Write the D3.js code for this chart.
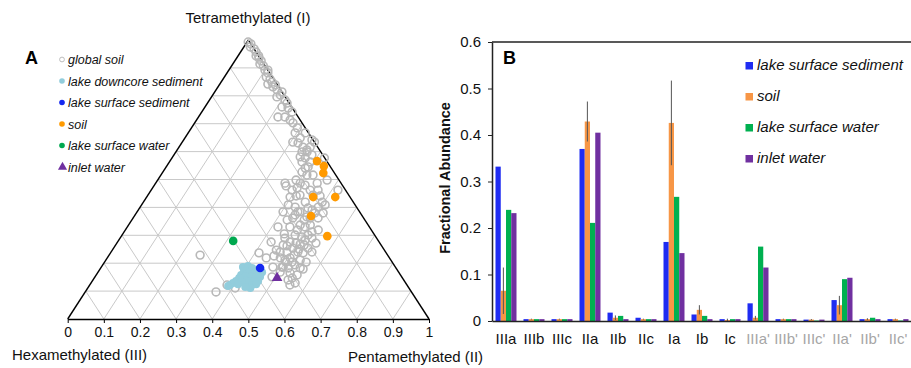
<!DOCTYPE html>
<html>
<head>
<meta charset="utf-8">
<script src="https://cdn.jsdelivr.net/npm/d3@7"></script>
<style>
  html, body { margin: 0; padding: 0; background: #fff; }
  svg { display: block; font-family: "Liberation Sans", Arial, Helvetica, sans-serif; }
</style>
</head>
<body>
<svg id="chart" width="911" height="368"></svg>
<script>
// ---------- Panel A: ternary data, [Tetramethylated (I), Pentamethylated (II)] fractions ----------
const globalSoil = [
  [0.993,0.003],[0.986,0.014],[0.975,0.018],[0.968,0.032],[0.957,0.043],[0.943,0.050],[0.935,0.062],
  [0.925,0.073],[0.914,0.075],[0.907,0.088],[0.892,0.100],[0.882,0.113],[0.867,0.116],[0.860,0.130],
  [0.849,0.141],[0.842,0.133],[0.839,0.155],[0.832,0.152],[0.821,0.169],[0.803,0.187],[0.796,0.181],
  [0.785,0.209],[0.760,0.213],[0.756,0.232],[0.774,0.220],[0.724,0.220],[0.724,0.239],[0.713,0.259],
  [0.703,0.272],[0.685,0.293],[0.667,0.296],[0.649,0.319],[0.631,0.322],[0.616,0.343],[0.616,0.363],
  [0.599,0.349],[0.599,0.363],[0.581,0.353],[0.577,0.369],[0.588,0.382],[0.563,0.390],[0.634,0.306],
  [0.634,0.366],[0.606,0.359],[0.563,0.367],[0.545,0.393],[0.577,0.422],[0.527,0.385],[0.516,0.404],
  [0.516,0.421],[0.498,0.469],[0.487,0.358],[0.470,0.400],[0.480,0.417],[0.462,0.440],[0.462,0.462],
  [0.444,0.421],[0.419,0.448],[0.401,0.429],[0.409,0.406],[0.401,0.493],[0.409,0.508],[0.384,0.451],
  [0.366,0.479],[0.362,0.512],[0.362,0.442],[0.337,0.475],[0.330,0.492],[0.337,0.503],[0.462,0.517],
  [0.477,0.366],[0.487,0.447],[0.419,0.495],[0.380,0.517],[0.384,0.445],[0.355,0.430],[0.330,0.450],
  [0.330,0.417],[0.301,0.479],[0.294,0.501],[0.301,0.515],[0.272,0.551],[0.276,0.477],[0.265,0.464],
  [0.240,0.468],[0.240,0.487],[0.254,0.496],[0.240,0.517],[0.237,0.533],[0.240,0.556],[0.276,0.425],
  [0.237,0.411],[0.219,0.440],[0.219,0.479],[0.219,0.506],[0.211,0.538],[0.186,0.503],[0.194,0.532],
  [0.179,0.562],[0.165,0.533],[0.158,0.556],[0.140,0.540],[0.129,0.565],[0.151,0.490],[0.229,0.252],
  [0.122,0.380],[0.111,0.408],[0.097,0.362],[0.186,0.475],[0.186,0.500],[0.122,0.554],[0.254,0.538],
  [0.204,0.519],[0.441,0.478],[0.312,0.520],[0.305,0.447],[0.441,0.412],[0.642,0.355],[0.541,0.387],
  [0.498,0.383],[0.391,0.481],[0.265,0.522],[0.204,0.502],[0.269,0.509],[0.129,0.432],
  [0.462,0.390],[0.487,0.400],[0.444,0.457],[0.437,0.397],[0.398,0.466],[0.380,0.494],[0.373,0.443],
  [0.355,0.477],[0.319,0.476],[0.290,0.456],[0.283,0.516],[0.272,0.496],[0.247,0.454],[0.211,0.496],
  [0.226,0.458],[0.183,0.552],[0.204,0.558],[0.183,0.519],[0.168,0.504],[0.147,0.548],[0.290,0.531],
  [0.362,0.490],[0.384,0.404],[0.319,0.534],[0.251,0.515],[0.229,0.512],[0.262,0.476],
  [0.943,0.057],[0.892,0.108],[0.814,0.186],[0.742,0.250],[0.667,0.324]
];
const lakeDowncoreSediment = [
  [0.186,0.392],[0.190,0.404],[0.183,0.419],[0.176,0.433],[0.172,0.402],[0.168,0.418],[0.165,0.434],
  [0.161,0.449],[0.168,0.454],[0.158,0.401],[0.154,0.416],[0.151,0.432],[0.151,0.446],[0.151,0.457],
  [0.140,0.418],[0.136,0.434],[0.136,0.448],[0.136,0.459],[0.122,0.435],[0.122,0.449],[0.125,0.459],
  [0.147,0.401],[0.136,0.398],[0.129,0.393],[0.122,0.388],[0.118,0.385],[0.133,0.414],[0.111,0.450],
  [0.115,0.434],[0.125,0.409]
];
const lakeSurfaceSedimentTern = [[0.183,0.441]];
const soilTern = [[0.566,0.407],[0.548,0.435],[0.523,0.446],[0.437,0.461],[0.437,0.522],[0.369,0.489],[0.297,0.570]];
const lakeSurfaceWaterTern = [[0.280,0.318]];
const inletWaterTern = [[0.147,0.506]];
const ternaryTicks = [0,0.1,0.2,0.3,0.4,0.5,0.6,0.7,0.8,0.9,1];
const legendALabels = ["global soil","lake downcore sediment","lake surface sediment","soil","lake surface water","inlet water"];

// ---------- Panel B: bar data ----------
const categories = ["IIIa","IIIb","IIIc","IIa","IIb","IIc","Ia","Ib","Ic","IIIa'","IIIb'","IIIc'","IIa'","IIb'","IIc'"];
const seriesNames = ["lake surface sediment","soil","lake surface water","inlet water"];
const lakeSurfaceSediment = [0.332,0.004,0.004,0.370,0.018,0.007,0.170,0.014,0.004,0.038,0.004,0.003,0.045,0.004,0.004];
const soil               = [0.065,0.004,0.004,0.429,0.007,0.004,0.426,0.024,0.002,0.007,0.004,0.003,0.034,0.004,0.004];
const soilErr            = [0.050,0.001,0.001,0.043,0.005,0.001,0.091,0.010,0.003,0.004,0.001,0.001,0.020,0.002,0.001];
const lakeSurfaceWater   = [0.239,0.004,0.004,0.211,0.011,0.004,0.267,0.011,0.004,0.160,0.004,0.001,0.090,0.007,0.001];
const inletWater         = [0.232,0.004,0.004,0.405,0.004,0.004,0.146,0.004,0.004,0.115,0.004,0.003,0.093,0.004,0.004];
const barTicks = [0,0.1,0.2,0.3,0.4,0.5,0.6];

const svg = d3.select("#chart");

// ================= Panel A =================
const tx = d3.scaleLinear().domain([0,1]).range([67.7, 429]);
const ty = d3.scaleLinear().domain([0,1]).range([319, 40]);
const proj = (I, II) => [tx(II + I/2), ty(I)];

const gA = svg.append("g");
// grid
const grid = [];
for (let k = 1; k <= 9; k++) {
  const f = k/10;
  grid.push([proj(f,0), proj(f,1-f)]);      // constant I
  grid.push([proj(0,f), proj(1-f,f)]);      // constant II
  grid.push([proj(0,1-f), proj(1-f,0)]);    // constant III
}
gA.selectAll("line.grid").data(grid).join("line")
  .attr("x1", d => d[0][0]).attr("y1", d => d[0][1])
  .attr("x2", d => d[1][0]).attr("y2", d => d[1][1])
  .attr("stroke", "#c9c9c9").attr("stroke-width", 1);

// edges
const edges = [[proj(0,0), proj(1,0)], [proj(0,1), proj(1,0)]];
gA.selectAll("line.edge").data(edges).join("line")
  .attr("x1", d => d[0][0]).attr("y1", d => d[0][1])
  .attr("x2", d => d[1][0]).attr("y2", d => d[1][1])
  .attr("stroke", "#000").attr("stroke-width", 1.4);

// bottom axis
const axA = gA.append("g").attr("transform", `translate(0,${ty(0)})`)
  .call(d3.axisBottom(tx).tickValues(ternaryTicks).tickSizeInner(4).tickSizeOuter(0).tickPadding(4)
        .tickFormat(d => d3.format("~g")(d)));
axA.select(".domain").attr("stroke", "#000").attr("stroke-width", 1.4);
axA.selectAll(".tick line").attr("stroke", "#000");
axA.selectAll("text").attr("font-size", 14).attr("fill", "#111").attr("font-family", "Liberation Sans, Arial, sans-serif");

// points
gA.selectAll("circle.gs").data(globalSoil).join("circle")
  .attr("cx", d => proj(d[0], d[1])[0]).attr("cy", d => proj(d[0], d[1])[1])
  .attr("r", 3.9).attr("fill", "none").attr("stroke", "#b8b8b8").attr("stroke-width", 1.6);
gA.selectAll("circle.lds").data(lakeDowncoreSediment).join("circle")
  .attr("cx", d => proj(d[0], d[1])[0]).attr("cy", d => proj(d[0], d[1])[1])
  .attr("r", 4).attr("fill", "#92cddc");
gA.selectAll("circle.soil").data(soilTern).join("circle")
  .attr("cx", d => proj(d[0], d[1])[0]).attr("cy", d => proj(d[0], d[1])[1])
  .attr("r", 4.3).attr("fill", "#ff9a00");
gA.selectAll("circle.lsw").data(lakeSurfaceWaterTern).join("circle")
  .attr("cx", d => proj(d[0], d[1])[0]).attr("cy", d => proj(d[0], d[1])[1])
  .attr("r", 4.3).attr("fill", "#00a84f");
gA.selectAll("circle.lss").data(lakeSurfaceSedimentTern).join("circle")
  .attr("cx", d => proj(d[0], d[1])[0]).attr("cy", d => proj(d[0], d[1])[1])
  .attr("r", 4.3).attr("fill", "#1428f0");
gA.selectAll("path.iw").data(inletWaterTern).join("path")
  .attr("transform", d => `translate(${proj(d[0], d[1])[0]},${proj(d[0], d[1])[1]})`)
  .attr("d", d3.symbol(d3.symbolTriangle, 50)).attr("fill", "#7030a0");

// axis titles
gA.append("text").attr("x", 248).attr("y", 23).attr("text-anchor", "middle")
  .attr("font-size", 15).attr("fill", "#111").text("Tetramethylated (I)");
gA.append("text").attr("x", 12).attr("y", 360)
  .attr("font-size", 15).attr("fill", "#111").text("Hexamethylated (III)");
gA.append("text").attr("x", 348).attr("y", 362)
  .attr("font-size", 15).attr("fill", "#111").text("Pentamethylated (II)");
gA.append("text").attr("x", 25).attr("y", 64).attr("font-size", 18).attr("font-weight", "bold").text("A");

// legend A
const legA = gA.append("g");
const legStyles = [
  {shape:"circle", fill:"none", stroke:"#bdbdbd"},
  {shape:"circle", fill:"#92cddc"},
  {shape:"circle", fill:"#1428f0"},
  {shape:"circle", fill:"#ff9a00"},
  {shape:"circle", fill:"#00a84f"},
  {shape:"triangle", fill:"#7030a0"}
];
const legY = d3.scalePoint().domain(legendALabels).range([59.5, 167]);
legendALabels.forEach((lab, i) => {
  const st = legStyles[i];
  const y = legY(lab);
  if (st.shape === "circle") {
    legA.append("circle").attr("cx", 62).attr("cy", y).attr("r", st.fill === "none" ? 2.4 : 2.8)
      .attr("fill", st.fill).attr("stroke", st.stroke || "none").attr("stroke-width", 1);
  } else {
    legA.append("path").attr("transform", `translate(62.5,${y})`)
      .attr("d", d3.symbol(d3.symbolTriangle, 36)).attr("fill", st.fill);
  }
  legA.append("text").attr("x", 68).attr("y", y).attr("dy", "0.36em")
    .attr("font-size", 12.5).attr("font-style", "italic").attr("fill", "#111").text(lab);
});

// ================= Panel B =================
const seriesValues = [lakeSurfaceSediment, soil, lakeSurfaceWater, inletWater];
const seriesColors = ["#1f2cf2", "#f79646", "#00b050", "#7030a0"];
const bx = d3.scaleBand().domain(categories).range([492, 912]).paddingInner(0.25).paddingOuter(0.125);
const bxi = d3.scaleBand().domain(seriesNames).range([0, bx.bandwidth()]);
const by = d3.scaleLinear().domain([0, 0.6]).range([321, 42]);

const gB = svg.append("g");
// top frame line
gB.append("line").attr("x1", 492).attr("x2", 911).attr("y1", by(0.6)).attr("y2", by(0.6))
  .attr("stroke", "#222").attr("stroke-width", 1.3);

// bars
seriesNames.forEach((s, si) => {
  gB.append("g").selectAll("rect").data(seriesValues[si].map((v, i) => ({c: categories[i], v}))).join("rect")
    .attr("x", d => bx(d.c) + bxi(s)).attr("width", bxi.bandwidth())
    .attr("y", d => by(d.v)).attr("height", d => by(0) - by(d.v))
    .attr("fill", seriesColors[si]);
});
// error bars on soil
gB.append("g").selectAll("line").data(soil.map((v, i) => ({c: categories[i], v, e: soilErr[i]}))).join("line")
  .attr("x1", d => bx(d.c) + bxi("soil") + bxi.bandwidth()/2)
  .attr("x2", d => bx(d.c) + bxi("soil") + bxi.bandwidth()/2)
  .attr("y1", d => by(d.v + d.e)).attr("y2", d => by(Math.max(0, d.v - d.e)))
  .attr("stroke", "#555").attr("stroke-width", 1);

// axes
const yAx = gB.append("g").attr("transform", "translate(492,0)")
  .call(d3.axisLeft(by).tickValues(barTicks).tickSizeInner(4).tickSizeOuter(0).tickPadding(7)
        .tickFormat(d => d3.format("~g")(d)));
yAx.select(".domain").attr("stroke", "#222").attr("stroke-width", 1.5);
yAx.selectAll(".tick line").attr("stroke", "#222");
yAx.selectAll("text").attr("font-size", 15).attr("fill", "#111").attr("font-family", "Liberation Sans, Arial, sans-serif");

const xAx = gB.append("g").attr("transform", `translate(0,${by(0)})`)
  .call(d3.axisBottom(bx).tickSize(0).tickPadding(12));
xAx.select(".domain").attr("stroke", "#222").attr("stroke-width", 1.5);
xAx.selectAll("text").attr("font-size", 15).attr("font-family", "Liberation Sans, Arial, sans-serif")
  .attr("fill", (d, i) => i >= 9 ? "#a6a6a6" : "#111");

gB.append("text").attr("transform", "translate(450,178) rotate(-90)").attr("text-anchor", "middle")
  .attr("font-size", 14.5).attr("font-weight", "bold").attr("fill", "#111").text("Fractional Abundance");
gB.append("text").attr("x", 503).attr("y", 64).attr("font-size", 18).attr("font-weight", "bold").text("B");

// legend B
const legBY = d3.scalePoint().domain(seriesNames).range([65.5, 158.5]);
seriesNames.forEach((s, i) => {
  const y = legBY(s);
  gB.append("rect").attr("x", 745.5).attr("y", y - 3.5).attr("width", 7.5).attr("height", 7.5).attr("fill", seriesColors[i]);
  gB.append("text").attr("x", 757).attr("y", y).attr("dy", "0.33em")
    .attr("font-size", 15).attr("font-style", "italic").attr("fill", "#111").text(s);
});
</script>
</body>
</html>
